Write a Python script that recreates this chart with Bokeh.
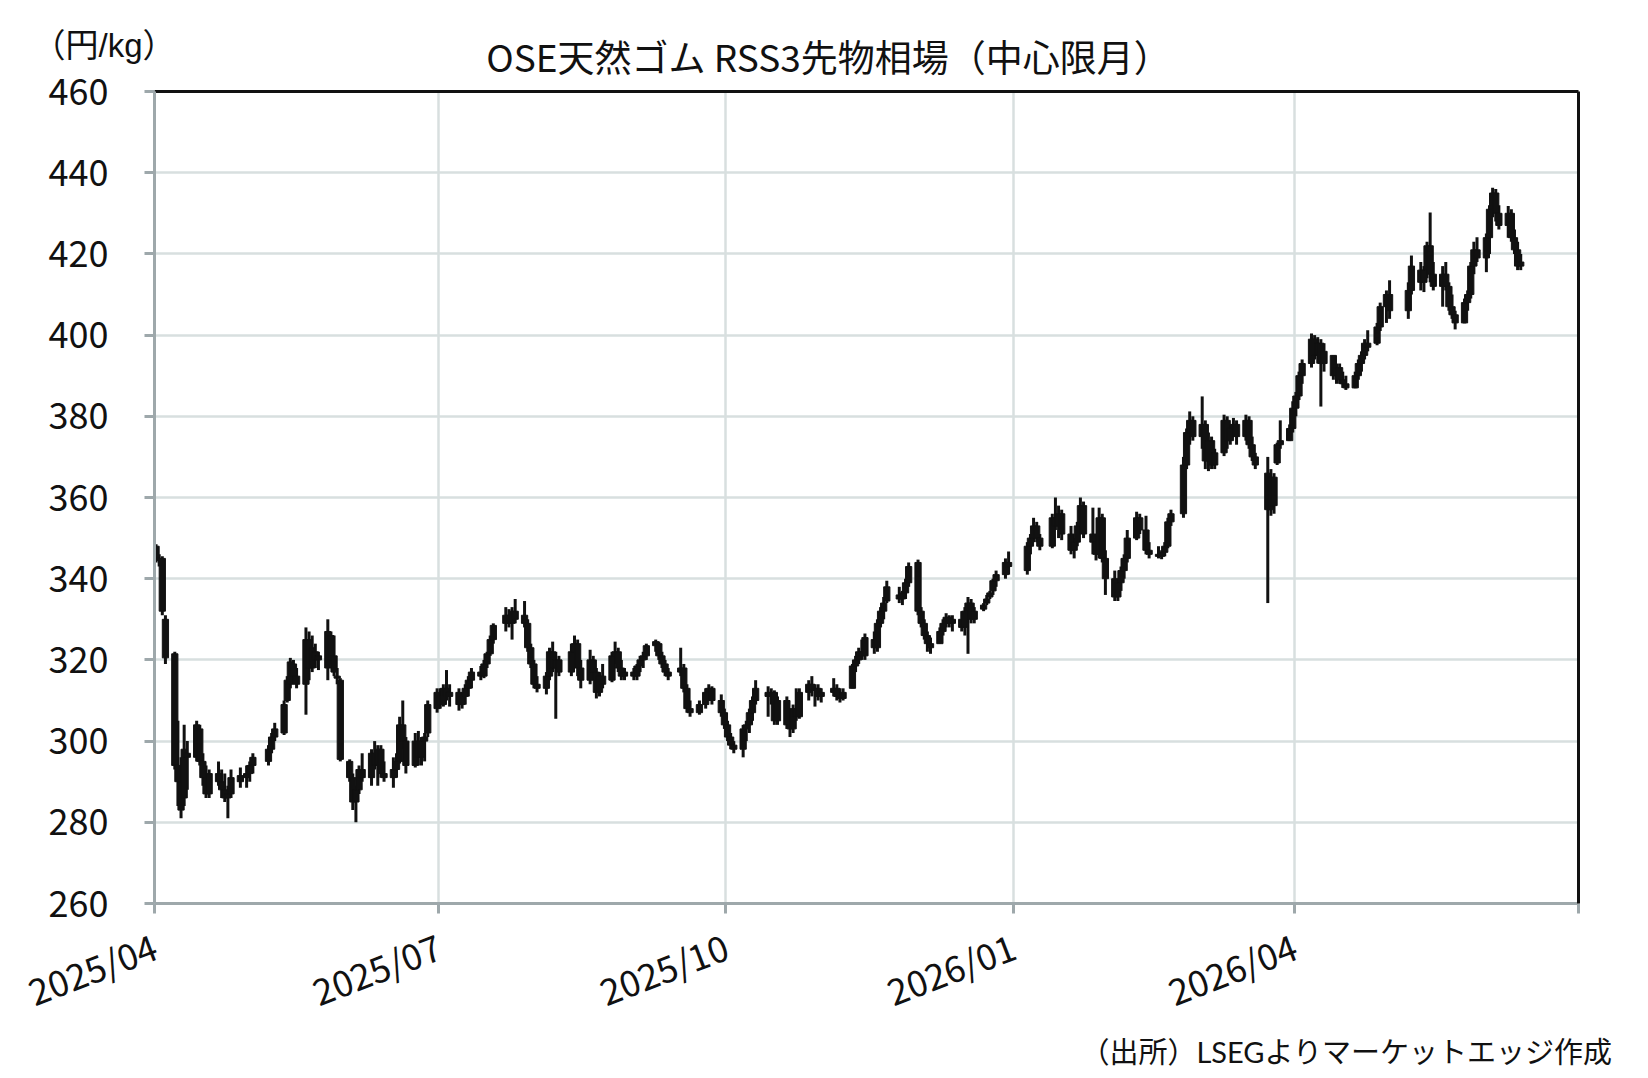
import pandas as pd
from bokeh.plotting import figure
from bokeh.models import (Range1d, FixedTicker, LinearAxis, Label,
                          ColumnDataSource, DatetimeTickFormatter)
from bokeh.embed import file_html
from bokeh.resources import INLINE

FONT = "Noto Sans CJK JP"
FONT_UNIT = '"Liberation Sans", "Noto Sans CJK JP"'
FONT_NOTE = 'Lato, "Noto Sans CJK JP"'
TITLE = "OSE天然ゴム RSS3先物相場（中心限月）"
UNIT = "（円/kg）"
SOURCE_NOTE = "（出所）LSEGよりマーケットエッジ作成"

START = "2025-04-01"
END = "2026-06-12"
HOLIDAYS = ["2025-04-29", "2025-05-05", "2025-05-06", "2025-07-21", "2025-08-11",
            "2025-09-15", "2025-09-23", "2025-10-13", "2025-11-03", "2025-11-24",
            "2025-12-31", "2026-01-01", "2026-01-02", "2026-01-12", "2026-02-11",
            "2026-02-23", "2026-03-20", "2026-04-29", "2026-05-04", "2026-05-05",
            "2026-05-06"]
X_START = "2025-04-01"
X_END = "2026-07-01"
X_TICKS = ["2025-04-01", "2025-07-01", "2025-10-01", "2026-01-01", "2026-04-01", "2026-07-01"]
X_UNLABELED = ["2026-07-01"]
Y_MIN, Y_MAX = 260, 460
Y_TICKS = [260, 280, 300, 320, 340, 360, 380, 400, 420, 440, 460]

open_ = [
    348, 345, 345, 330,
    321.5, 294, 290, 286, 297,
    296, 303, 295, 291, 287,
    292, 290, 288, 286, 287,
    290, 291, 292, 294,
    295, 298, 301,
    302, 310, 314, 319, 316,
    314, 325, 318, 322, 320,
    318, 326, 321, 316, 315,
    295, 291, 285, 288, 293,
    291, 297, 294, 298, 292,
    291, 293, 295, 304, 300,
    294, 300, 296, 300, 302,
    308, 311, 309, 313, 311,
    312, 309, 311, 313, 315,
    317, 316, 319, 321.5, 325,
    329, 331, 329, 332,
    331, 329, 323, 319, 314,
    313, 316, 322, 318, 320,
    317, 322, 324, 318,
    315, 320, 317, 312, 316,
    315, 321, 322, 318, 316,
    317, 316, 318.5, 320, 321,
    323.5, 324, 321, 319, 317,
    317, 318, 313, 308,
    307, 309, 312, 313,
    310, 307, 304, 301, 299,
    298, 303, 304, 307, 310,
    312, 311, 312, 305,
    310, 304, 303, 308, 306,
    312, 314, 312.5, 313, 311,
    312, 313, 311, 310.5,
    313, 318.5, 320, 322, 321,
    325, 323, 329, 332, 334.5,
    336, 335, 336.5, 339,
    344, 332, 329, 326, 324,
    324, 327, 329, 330.5, 329,
    330, 328, 332, 334, 330,
    332.5, 334, 335.5, 337, 339.5,
    341, 344,
    342, 348, 350, 353, 350,
    348, 355, 353, 356,
    351, 347, 349, 353, 358,
    351, 349, 346, 355, 345,
    340, 335.5, 339, 342, 345,
    350, 355, 352, 347,
    346, 345.5, 346.5, 348, 354,
    356, 368, 376, 379,
    375, 378, 369, 374, 368,
    371, 379, 374, 377, 378,
    375, 379, 373, 370,
    366, 357, 365, 368.5, 373,
    374, 377, 382, 385, 390,
    393, 399, 395, 398, 393,
    395, 390, 392, 389, 388,
    387, 390, 393, 395, 398,
    398, 402, 407, 410,
    406, 411,
    416, 413, 416, 422, 415,
    412, 415, 412, 407, 405,
    403, 408, 410, 417, 421,
    419, 424, 431, 435, 430,
    427, 430, 424, 421, 417,
]
high = [
    348.5, 346, 345.5, 331,
    322, 305, 296, 304, 300,
    305, 304, 297, 294, 293,
    295, 293, 292, 289, 293,
    293.5, 294, 295, 297,
    299, 302, 304.5,
    310, 316, 320.5, 320, 318,
    328, 327, 326, 324, 322,
    330, 327, 326, 318, 315.5,
    295.5, 292, 289, 294, 297,
    298, 300, 299, 299, 295,
    296, 297, 306, 310, 301,
    302, 302.5, 301, 302, 310,
    313, 313, 314, 317.5, 314,
    313, 312, 314, 316, 318,
    318.5, 320, 322, 326, 329,
    333, 332.5, 333, 335,
    334.5, 330, 324, 320, 316,
    317, 323, 324.5, 322, 321,
    324, 326, 325, 320,
    322.5, 321, 318, 317, 319,
    322, 324.5, 323, 320, 318,
    318, 319, 321, 322, 324,
    325, 324.5, 322, 320, 318,
    323, 319, 314, 310,
    310, 313, 314, 313.5,
    311.5, 308, 305, 302, 300,
    304, 305, 308, 311, 315,
    313.5, 313, 312.5, 311,
    311, 306, 309, 313, 313,
    315, 316, 314, 314, 313,
    315.5, 314, 313, 313,
    319, 321, 323, 325, 326.5,
    327, 330, 333, 335.5, 339.5,
    338, 337, 340, 344,
    344.7, 333, 330, 327, 325.5,
    328, 330, 331.5, 331, 331,
    332, 333, 335.5, 335, 333,
    334, 336, 337, 340, 342,
    345, 346.7,
    349, 351, 355, 354, 351,
    356, 360, 358, 357,
    353, 350, 354, 360, 359,
    357.5, 351, 357.5, 356, 347,
    342, 340, 343, 346, 352,
    356.5, 356, 355.5, 349,
    348, 347, 349, 355, 357,
    370, 377, 381.2, 380,
    384.9, 379, 376, 375, 372,
    380.4, 380, 378, 379.6, 379,
    380.4, 380, 375, 371,
    370, 367, 366, 373.5, 379,
    378, 383.7, 386, 391, 394,
    400.4, 400, 399.5, 399, 398,
    395, 393, 393, 391, 390,
    391, 394, 396, 399, 401.2,
    403, 408, 411, 413.5,
    413, 419.6,
    418, 417, 423, 430.2, 418,
    417, 418, 413, 410, 406,
    409, 411, 418, 423, 424.1,
    425, 432, 436.3, 436, 432,
    431.8, 431, 426, 423, 420,
]
low = [
    344, 343, 331, 319,
    293, 284, 281, 284, 288,
    295, 294, 289, 286, 286,
    289, 286, 285, 281, 286,
    288.5, 288.5, 290, 292,
    294, 297, 300,
    301.5, 309.5, 313, 315, 313,
    306.5, 315, 317, 318, 317.5,
    315, 319, 316, 314, 295,
    290, 283, 280, 287, 290,
    289, 293, 289, 291, 290,
    288.5, 291, 294.5, 298, 292,
    293.5, 294, 294, 295, 301,
    307, 308, 308.5, 310, 308.5,
    307.5, 308, 309, 311, 313,
    315, 315.5, 318, 321, 324,
    327, 328, 325, 329,
    328, 322, 318, 313, 312,
    311.5, 315, 317, 305.5, 316,
    316, 319, 316, 313,
    314, 315, 310.5, 311, 313,
    314.5, 319, 317, 315, 315,
    315, 315, 317, 318, 320,
    322, 320, 318, 316, 315,
    316, 312, 307, 306,
    306.5, 308, 310, 309,
    306, 303, 300, 298, 297,
    296, 300, 302, 305, 309,
    306, 309, 304, 304,
    303, 301, 302, 305, 305.5,
    310, 311, 308.5, 310, 309.5,
    311, 310, 309.5, 310,
    313, 317, 319, 320, 320,
    321.5, 322, 328, 330, 334,
    334, 333.5, 335, 338,
    331, 328, 325, 322, 321.5,
    324, 326, 328, 328, 327,
    327, 326, 321.5, 329, 329,
    332, 333.5, 335, 336, 338,
    340, 341,
    341, 346, 349, 349, 347,
    347.5, 352, 350, 349.5,
    346, 345, 348, 352, 350,
    346, 344.5, 345, 344, 336,
    334.5, 334.5, 337, 340, 344,
    349.5, 351, 346, 345,
    345, 344.8, 345.5, 347.5, 353,
    355, 367, 373, 374,
    372, 367, 366.5, 367, 367,
    370.2, 372, 373, 375, 373,
    374, 372, 369, 367,
    334, 355.5, 356, 368, 372,
    373.9, 376, 380, 384, 388,
    392, 394, 393, 382.4, 391,
    389, 388, 388, 387, 386.5,
    386.9, 389, 391, 394, 396,
    397.5, 401, 403, 404,
    404, 410,
    411, 410.6, 414, 413, 411,
    407, 411, 406, 404, 401.4,
    402.9, 406, 409, 415, 418,
    415.5, 420, 429, 428, 426,
    424, 423, 420, 416, 416,
]
close = [
    345, 344.5, 332, 320.5,
    294, 290, 283, 298, 296,
    304, 295, 291, 287, 292,
    290, 288, 286, 287, 291,
    291.5, 292, 294, 296,
    298, 301, 303,
    309, 315, 319.5, 316, 314,
    325, 318, 323, 320, 321,
    327, 320, 317, 315.5, 295.5,
    291, 285, 288, 293, 291,
    297, 294, 298, 292, 291,
    293, 295, 304, 300, 294,
    300, 296, 300, 301, 309,
    312, 309, 313, 311, 312,
    309, 311, 313, 315, 317,
    316, 319, 321.5, 325, 328.5,
    331, 329, 332, 330,
    329, 323, 319, 314, 313,
    316, 322, 318, 320, 317,
    322, 324, 318, 315,
    320, 317, 312, 316, 314,
    321, 322, 318, 316, 317,
    316, 318.5, 320, 321, 323.5,
    324.5, 321, 319, 317, 316,
    318, 313, 308, 307,
    309, 312, 313, 310,
    307, 304, 301, 299, 298,
    303, 304, 307, 310, 313,
    311, 312, 305, 310,
    304, 303, 308, 306, 312,
    314, 312.5, 313, 311, 312,
    313, 311, 310.5, 312,
    318.5, 320, 322, 321, 325.5,
    323, 329, 332, 334, 338,
    335, 336.5, 339, 343,
    332, 329, 326, 324, 323,
    327, 329, 330.5, 329, 330,
    328, 332, 334, 330, 332,
    333.5, 335, 336.5, 339.5, 341,
    344, 343,
    348, 350, 353, 350, 348,
    355, 353, 356, 351,
    347, 349, 353, 358, 351,
    349, 346, 355, 345, 340,
    335.5, 339, 342, 345, 350,
    355, 352, 347, 346,
    345.5, 346.5, 348, 354, 356,
    368, 376, 379, 375,
    378, 369, 374, 368, 371,
    379, 374, 377, 378, 375,
    379, 373, 370, 368,
    357, 365, 358, 373, 374,
    377, 382, 385, 390, 393,
    399, 395, 398, 393, 396,
    390, 392, 389, 388, 387,
    390, 393, 395, 398, 397,
    402, 407, 410, 406,
    411, 417,
    413, 416, 422, 415, 412,
    415, 412, 407, 405, 403,
    408, 410, 417, 421, 419,
    424, 431, 435, 430, 427,
    430, 424, 421, 417, 418,
]

# ---- build ----
dates = pd.bdate_range(START, END, freq="C", holidays=HOLIDAYS)
n = min(len(dates), len(open_), len(high), len(low), len(close))
session_mid = dates[:n] + pd.Timedelta(hours=12)

src = ColumnDataSource(dict(
    date=session_mid,
    open=open_[:n], high=high[:n], low=low[:n], close=close[:n],
))

def ms(d):
    return (pd.Timestamp(d) - pd.Timestamp("1970-01-01")) / pd.Timedelta(milliseconds=1)

DAY_MS = 86400000

W, H = 1648, 1078
BL, BR, BT, BB = 154, 70, 90, 175
p = figure(width=W, height=H, x_axis_type="datetime",
           x_range=Range1d(ms(X_START), ms(X_END)),
           y_range=Range1d(Y_MIN, Y_MAX),
           output_backend="svg", toolbar_location=None,
           min_border_left=BL, min_border_right=BR,
           min_border_top=BT, min_border_bottom=BB)
p.outline_line_color = None
p.background_fill_color = "white"
p.border_fill_color = "white"

AX_GRAY = "#9ea8ab"
GRID = "#d8dfdf"

xt = FixedTicker(ticks=[ms(d) for d in X_TICKS])
yt = FixedTicker(ticks=Y_TICKS)
p.xaxis.ticker = xt
p.yaxis.ticker = yt
p.xgrid.ticker = xt
p.ygrid.ticker = yt
for g in (p.xgrid, p.ygrid):
    g.grid_line_color = GRID
    g.grid_line_width = 2.5

fmt = "%Y/%m"
p.xaxis.formatter = DatetimeTickFormatter(
    milliseconds=fmt, seconds=fmt, minsec=fmt, minutes=fmt, hourmin=fmt,
    hours=fmt, days=fmt, months=fmt, years=fmt)
p.xaxis.major_label_overrides = {ms(d): "" for d in X_UNLABELED}

for ax in (p.xaxis[0], p.yaxis[0]):
    ax.axis_line_color = AX_GRAY
    ax.axis_line_width = 3
    ax.major_tick_line_color = AX_GRAY
    ax.major_tick_line_width = 3
    ax.major_tick_out = 10
    ax.major_tick_in = 0
    ax.minor_tick_line_color = None
    ax.major_label_text_font = FONT
    ax.major_label_text_color = "#111111"

p.yaxis.major_label_text_font_size = "36px"
p.yaxis.major_label_standoff = 36
p.xaxis.major_label_text_font_size = "36px"
p.xaxis.major_label_orientation = 0.366
p.xaxis.major_label_standoff = 30

# black frame on top & right
for side in ("above", "right"):
    ax = LinearAxis(ticker=FixedTicker(ticks=[]), axis_line_color="#111111",
                    axis_line_width=3, major_tick_line_color=None,
                    major_tick_out=0, major_tick_in=0, major_label_standoff=0,
                    minor_tick_line_color=None, major_label_text_font_size="0px")
    p.add_layout(ax, side)

# candles
INK = "#111111"
p.segment(x0="date", y0="high", x1="date", y1="low", source=src,
          line_color=INK, line_width=3)
p.vbar(x="date", top="open", bottom="close", width=2.0 * DAY_MS, source=src,
       fill_color=INK, line_color=INK, line_width=1)

# texts (placed in the side panels, positions in screen px relative to the panel)
p.add_layout(Label(x=674, y=35.5, x_units="screen", y_units="screen",
                   text=TITLE, text_font=FONT, text_font_size="37px",
                   text_align="center", text_baseline="middle", text_color="#111111"),
             "above")
p.add_layout(Label(x=-122, y=-8, x_units="screen", y_units="screen",
                   text=UNIT, text_font=FONT_UNIT, text_font_size="33px",
                   text_align="left", text_baseline="middle", text_color="#111111"),
             "above")
p.add_layout(Label(x=1458, y=27, x_units="screen", y_units="screen",
                   text=SOURCE_NOTE, text_font=FONT_NOTE, text_font_size="29px",
                   text_align="right", text_baseline="middle", text_color="#111111"),
             "below")

open("out.html", "w").write(file_html(p, INLINE))
